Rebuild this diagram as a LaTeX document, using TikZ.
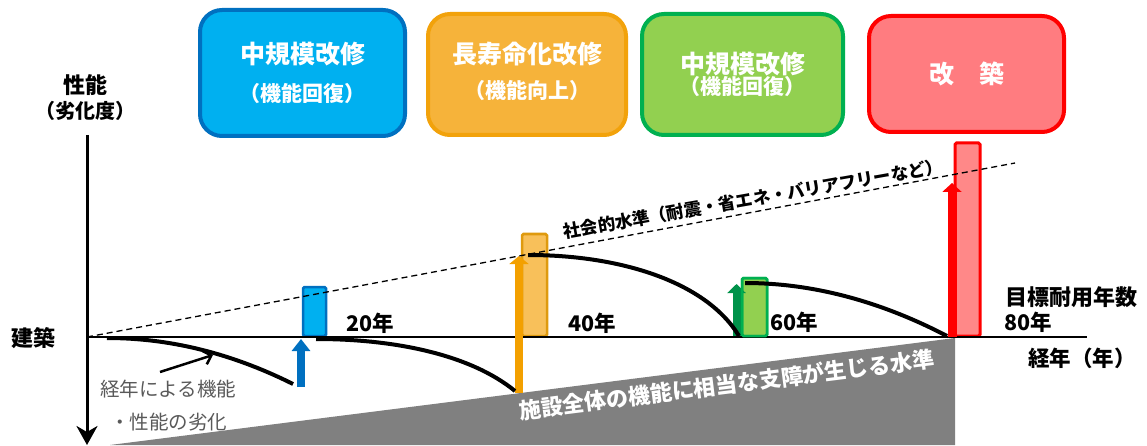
\documentclass[tikz,border=0pt]{standalone}
\usepackage{fontspec}
\setmainfont{Noto Sans CJK JP}
\usetikzlibrary{arrows.meta}
\definecolor{bfill}{HTML}{00B0F0}
\definecolor{bline}{HTML}{0070C0}
\definecolor{ofill}{HTML}{F6B33A}
\definecolor{oline}{HTML}{F2A20B}
\definecolor{obar}{HTML}{F8C05A}
\definecolor{obarline}{HTML}{DF9A0E}
\definecolor{oarrow}{HTML}{F3A000}
\definecolor{gfill}{HTML}{92D050}
\definecolor{gline}{HTML}{00B050}
\definecolor{garrow}{HTML}{00924A}
\definecolor{rfill}{HTML}{FF7C80}
\definecolor{rbar}{HTML}{FF8888}
\definecolor{rline}{HTML}{FF0000}
\definecolor{txtgray}{HTML}{595959}
\definecolor{levelgray}{HTML}{808080}
\tikzset{
  topbox/.style={rounded corners=22pt, line width=4pt, text=white, align=center, font=\bfseries, inner sep=0pt},
  bar/.style={rounded corners=1.5pt, line width=2.5pt, inner sep=0pt},
  curve/.style={line width=4pt},
  blockarrow/.style={line width=8pt},
  lbl/.style={font=\bfseries\fontsize{21.5}{25}\selectfont, inner sep=0pt},
  note/.style={text=txtgray, font=\fontsize{19.5}{23}\selectfont, inner sep=0pt, anchor=west},
}
\begin{document}
\begin{tikzpicture}[x=1pt,y=-1pt]
\useasboundingbox (0,0) rectangle (1147,446);

% top boxes
\node[topbox, fill=bfill, draw=bline, minimum width=205pt, minimum height=126pt] (b1) at (302.5,73)
  {\fontsize{25}{43}\selectfont 中規模改修\\[16pt]\fontsize{21}{43}\selectfont （機能回復）};
\node[topbox, fill=ofill, draw=oline, minimum width=198pt, minimum height=121pt] (b2) at (527,74.5)
  {\fontsize{25}{36}\selectfont 長寿命化改修\\[13pt]\fontsize{21}{36}\selectfont （機能向上）\rule[-8pt]{0pt}{1pt}};
\node[topbox, fill=gfill, draw=gline, minimum width=201pt, minimum height=121pt] (b3) at (742.5,74.5)
  {\fontsize{25}{28}\selectfont 中規模改修\\\fontsize{21}{28}\selectfont （機能回復）};
\node[topbox, fill=rfill, draw=rline, minimum width=195pt, minimum height=116pt] (b4) at (966.5,74)
  {\fontsize{25}{30}\selectfont 改　築};

% axis labels
\node[font=\bfseries\fontsize{22}{26}\selectfont, inner sep=0pt] (yl1) at (85,85) {性能};
\node[font=\bfseries\fontsize{20}{24}\selectfont, inner sep=0pt] (yl2) at (85,111) {（劣化度）};
\node[font=\bfseries\fontsize{22}{26}\selectfont, inner sep=0pt] (xl0) at (33,338) {建築};

% gray level
\fill[levelgray] (110,445) coordinate (g1) -- (955,338) coordinate (g2) -- (955,445) coordinate (g3) -- cycle;
\node[text=white, font=\bfseries\fontsize{22}{26}\selectfont, inner sep=0pt, rotate=7.2] (glbl) at (726.5,384.5) {施設全体の機能に相当な支障が生じる水準};

% bars
\node[bar, fill=bfill, draw=bline, minimum width=23pt, minimum height=49pt] (r1) at (314.5,311.5) {};
\node[bar, fill=obar, draw=obarline, minimum width=25pt, minimum height=102pt] (r2) at (534.5,285) {};
\node[bar, fill=gfill, draw=gline, minimum width=25pt, minimum height=58pt] (r3) at (754.5,307) {};
\node[bar, fill=rbar, draw=rline, line width=3pt, minimum width=25pt, minimum height=193pt] (r4) at (967.5,239.5) {};

% axes
\coordinate (o) at (87,337);
\coordinate (ytop) at (87,135);
\coordinate (ybot) at (87,445);
\coordinate (xend) at (1087,337);
\draw[line width=3pt, -{Stealth[length=19pt, width=21pt, inset=6pt]}] (ytop) -- (ybot);
\draw[line width=2pt] (o) -- (xend);

% block arrows
\coordinate (a1s) at (301,387); \coordinate (a1e) at (301,339);
\coordinate (a2s) at (519,393); \coordinate (a2e) at (519,256);
\coordinate (a3s) at (736.5,336); \coordinate (a3e) at (736.5,284);
\coordinate (a4s) at (952,337); \coordinate (a4e) at (952,183);
\draw[blockarrow, draw=bline, -{Triangle[length=12pt, width=18pt]}] (a1s) -- (a1e);
\draw[blockarrow, draw=oarrow, -{Triangle[length=8pt, width=19pt]}] (a2s) -- (a2e);
\draw[blockarrow, draw=garrow, -{Triangle[length=9pt, width=18pt]}] (a3s) -- (a3e);
\draw[blockarrow, line width=9pt, draw=rline, -{Triangle[length=9pt, width=19pt]}] (a4s) -- (a4e);
\node[bar, draw=gline, minimum width=25pt, minimum height=58pt] (r3b) at (754.5,307) {};

% deterioration curves
\coordinate (c1s) at (107,338); \coordinate (c1e) at (293,384);
\coordinate (c2s) at (316,339); \coordinate (c2e) at (515,391);
\coordinate (c3s) at (528,255); \coordinate (c3e) at (739,336);
\coordinate (c4s) at (745,283); \coordinate (c4e) at (947,336);
\draw[curve] (c1s) .. controls (169,338) and (231,353) .. (c1e);
\draw[curve] (c2s) .. controls (396,339) and (471,355) .. (c2e);
\draw[curve] (c3s) .. controls (623,255) and (707,283) .. (c3e);
\draw[curve] (c4s) .. controls (812,283) and (880,301) .. (c4e);

% social level
\coordinate (s1) at (1015,163);
\draw[line width=1.3pt, dash pattern=on 6pt off 4pt] (o) -- (s1);
\node[font=\bfseries\fontsize{17.5}{21}\selectfont, inner sep=0pt, rotate=10] (slbl) at (753,199) {社会的水準（耐震・省エネ・バリアフリーなど）};

% note with arrow
\node[note] (n1) at (100,389) {経年による機能};
\node[note] (n2) at (110,422) {・性能の劣化};
\coordinate (na) at (160,372); \coordinate (nb) at (213,355);
\draw[line width=2.5pt, -{Straight Barb[length=7pt, width=14pt]}] (na) -- (nb);

% year labels
\node[lbl] (y20) at (370,323) {20年};
\node[lbl] (y40) at (592,323) {40年};
\node[lbl] (y60) at (794,322) {60年};
\node[font=\bfseries\fontsize{22}{26}\selectfont, inner sep=0pt] (tgt) at (1071,297) {目標耐用年数};
\node[lbl, anchor=west] (y80) at (1004,322) {80年};
\node[lbl] (xl) at (1082,358) {経年（年）};
\end{tikzpicture}
\end{document}
